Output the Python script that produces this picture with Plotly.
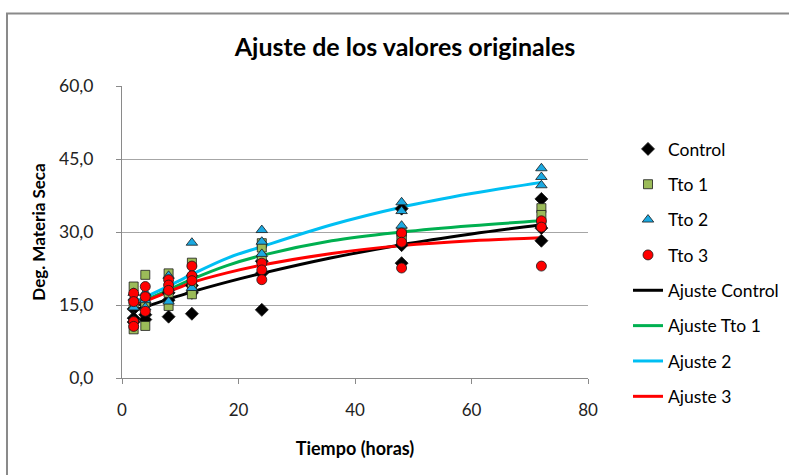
import plotly.graph_objects as go

# ---- data ----
time_points = [2, 4, 8, 12, 24, 48, 72]

control_vals = [[14.2, 12.3, 11.5], [15.0, 13.0, 12.0], [16.0, 12.6, 17.5],
                [13.2, 17.5, 19.0], [14.0, 21.5, 24.0], [34.8, 27.3, 23.6],
                [36.8, 28.2, 30.8]]
tto1_vals = [[18.8, 15.0, 10.0], [21.2, 15.5, 10.7], [21.5, 17.5, 14.8],
             [23.7, 17.2, 19.0], [27.7, 26.8, 24.5], [30.0, 29.0, 28.5],
             [34.9, 33.5, 31.5]]
tto2_vals = [[14.5, 16.5, 17.5], [16.0, 17.5, 14.5], [15.7, 21.0, 18.5],
             [27.8, 18.5, 21.5], [30.4, 28.0, 25.5], [36.1, 34.3, 31.3],
             [43.1, 41.3, 39.6]]
tto3_vals = [[17.4, 15.7, 11.6, 10.6], [18.8, 16.7, 13.7], [20.2, 19.1, 18.0],
             [23.0, 21.0, 20.0], [23.6, 22.2, 20.2], [29.8, 27.9, 22.6],
             [32.3, 31.0, 23.0]]

fit_x = [2, 4, 8, 12, 18, 24, 36, 48, 60, 72]
fit_control = [13.9, 14.6, 16.2, 17.7, 19.7, 21.5, 24.7, 27.4, 29.6, 31.5]
fit_tto1 = [15.0, 16.0, 18.1, 20.3, 23.1, 25.2, 28.2, 30.0, 31.3, 32.3]
fit_tto2 = [15.5, 16.6, 18.9, 21.3, 24.6, 27.0, 31.5, 35.1, 37.9, 40.2]
fit_tto3 = [15.0, 15.8, 17.7, 19.6, 21.6, 23.2, 25.6, 27.2, 28.2, 28.8]

y_ticks = [0, 15, 30, 45, 60]
x_ticks = [0, 20, 40, 60, 80]


def flatten(vals):
    xs, ys = [], []
    for t, group in zip(time_points, vals):
        for v in group:
            xs.append(t)
            ys.append(v)
    return xs, ys


fig = go.Figure()
FONT = "Lato"
outline = dict(color="#1a1a1a", width=0.8)

# fitted lines first so markers sit on top of them
fits = [
    ("Ajuste Control", fit_control, "#000000"),
    ("Ajuste Tto 1", fit_tto1, "#00B050"),
    ("Ajuste 2", fit_tto2, "#00BFF3"),
    ("Ajuste 3", fit_tto3, "#FF0000"),
]
for i, (name, vals, col) in enumerate(fits):
    fig.add_trace(go.Scatter(
        x=fit_x, y=vals, mode="lines", name=name,
        line=dict(color=col, width=3, shape="spline"),
        legendgroup=name, legendrank=10 + i))

series = [
    ("Control", control_vals, "diamond", "#000000", 10),
    ("Tto 1", tto1_vals, "square", "#9BBB59", 9),
    ("Tto 2", tto2_vals, "triangle-up", "#1BA9E1", 10),
    ("Tto 3", tto3_vals, "circle", "#FF0000", 10),
]
for i, (name, vals, sym, col, size) in enumerate(series):
    xs, ys = flatten(vals)
    fig.add_trace(go.Scatter(
        x=xs, y=ys, mode="markers", name=name,
        marker=dict(symbol=sym, color=col, size=size, line=outline),
        legendgroup=name, legendrank=i))

# outer chart frame (decoration)
fig.add_shape(type="rect", xref="paper", yref="paper",
              x0=-0.2468, x1=2.0, y0=-1.0, y1=1.2485,
              line=dict(color="#8a8a8a", width=2), fillcolor="rgba(0,0,0,0)",
              layer="below")

fig.update_layout(
    width=789, height=475,
    margin=dict(l=122, r=201, t=86, b=97),
    paper_bgcolor="white", plot_bgcolor="white",
    separators=",.",
    font=dict(family=FONT, size=14, color="#222"),
    title=dict(text="<b>Ajuste de los valores originales</b>",
               x=405 / 789, xanchor="center", y=1 - 47 / 475, yanchor="middle",
               font=dict(family=FONT, size=25, color="#000")),
    showlegend=True,
    legend=dict(xref="container", yref="container",
                x=628 / 789, xanchor="left", y=1 - 131 / 475, yanchor="top",
                traceorder="grouped", tracegroupgap=9.6, maxheight=420,
                font=dict(family=FONT, size=17.5, color="#000"),
                bgcolor="rgba(0,0,0,0)", itemwidth=30),
    xaxis=dict(range=[0, 80], tickvals=x_ticks, showgrid=False, zeroline=False,
               showline=True, linecolor="#8a8a8a", linewidth=1,
               ticks="outside", ticklen=5, tickcolor="#8a8a8a",
               ticklabelstandoff=12,
               tickfont=dict(family=FONT, size=17, color="#222"),
               title=dict(text="<b>Tiempo (horas)</b>", standoff=22,
                          font=dict(family=FONT, size=18, color="#000"))),
    yaxis=dict(range=[0, 60], tickvals=y_ticks, tickformat=".1f",
               showgrid=True, gridcolor="#a6a6a6", gridwidth=1, zeroline=False,
               showline=True, linecolor="#8a8a8a", linewidth=1,
               ticks="outside", ticklen=5, tickcolor="#8a8a8a",
               ticklabelstandoff=19,
               tickfont=dict(family=FONT, size=17.5, color="#222"),
               title=dict(text="<b>Deg. Materia Seca</b>", standoff=9,
                          font=dict(family=FONT, size=17, color="#000"))),
)

fig.write_html("out.html")
